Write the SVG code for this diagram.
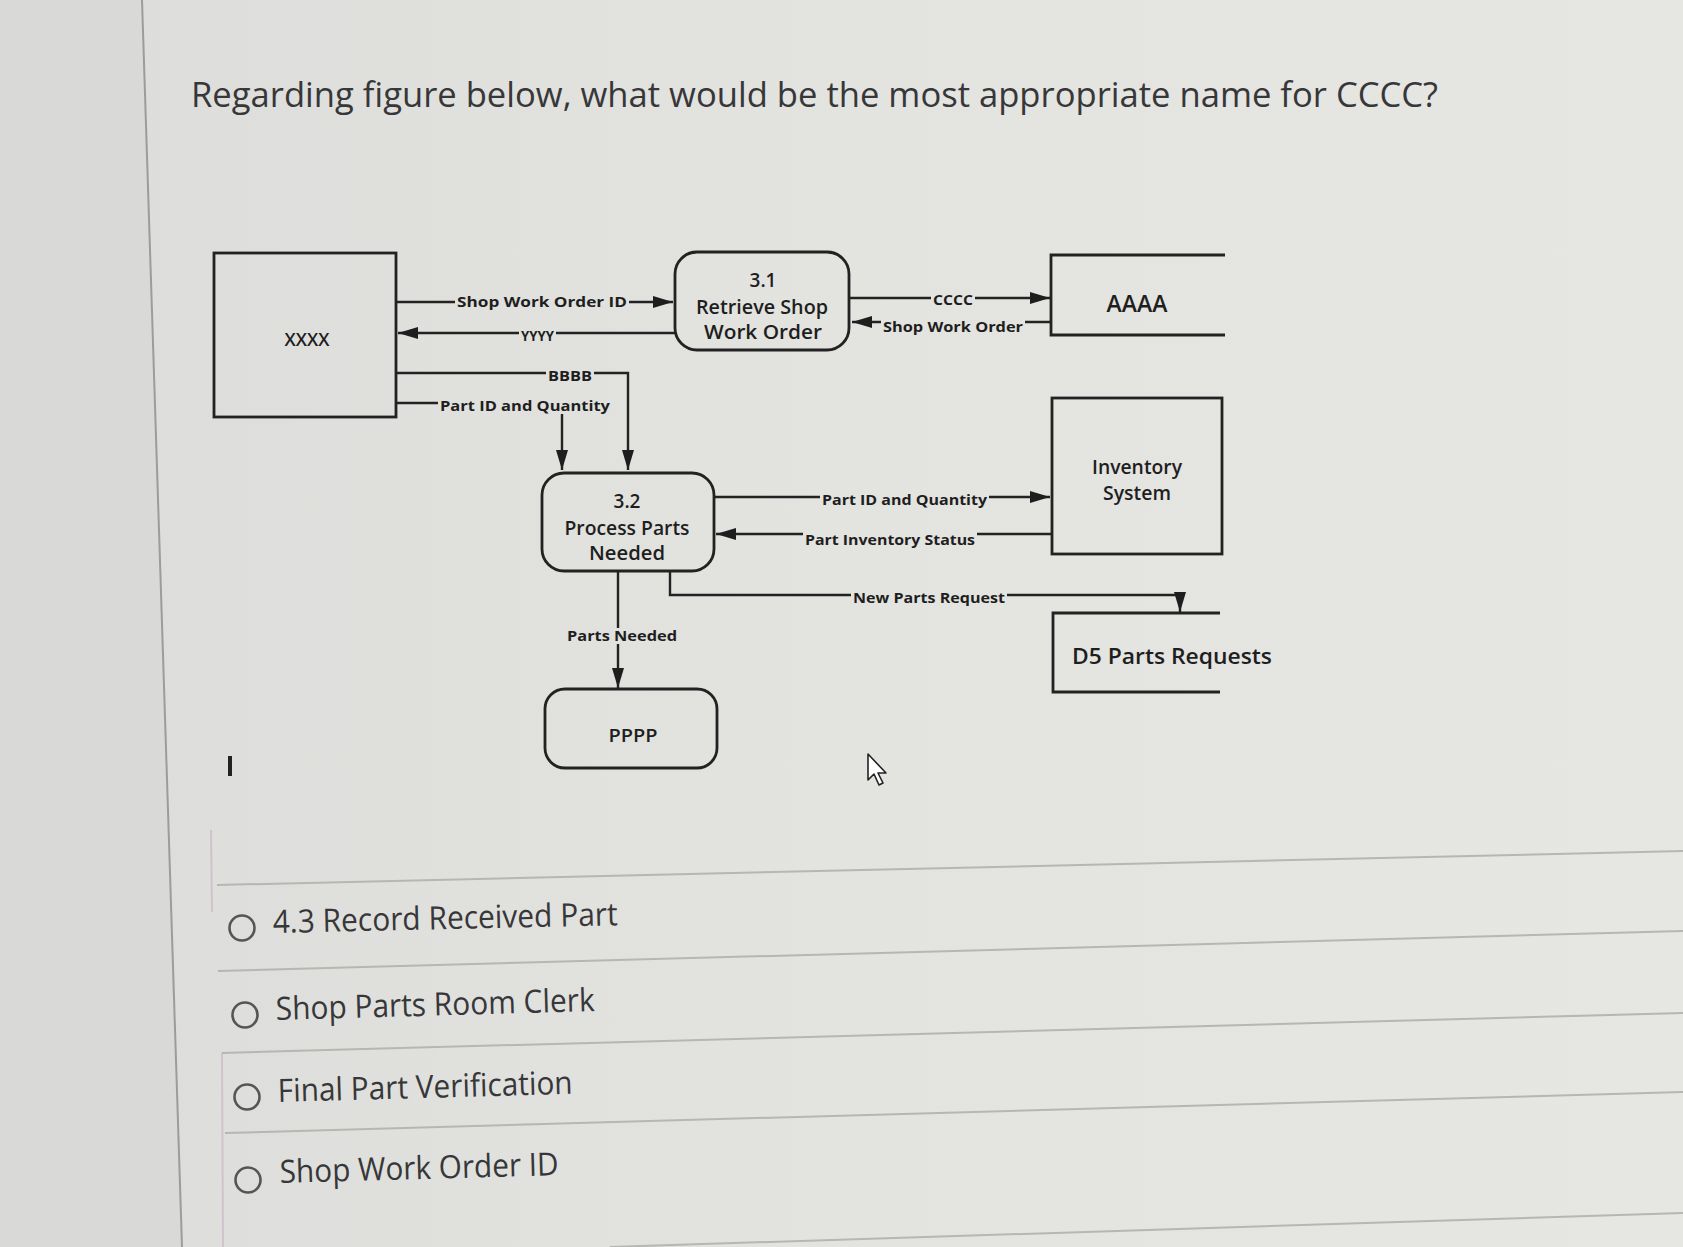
<svg xmlns="http://www.w3.org/2000/svg" width="1683" height="1247" viewBox="0 0 1683 1247">
<defs>
<linearGradient id="bg" x1="0" y1="0" x2="1" y2="0">
<stop offset="0" stop-color="#dcddda"/>
<stop offset="0.5" stop-color="#e3e3e0"/>
<stop offset="1" stop-color="#e6e6e3"/>
</linearGradient>
<marker id="ah" viewBox="0 0 20 12" refX="20" refY="6" markerWidth="20" markerHeight="12" markerUnits="userSpaceOnUse" orient="auto">
<path d="M0,0 L20,6 L0,12 z" fill="#1e1e1e"/>
</marker>
<style>
.box{fill:none;stroke:#222;stroke-width:2.8}
.conn{fill:none;stroke:#222;stroke-width:2.4}
.lbl{font-family:"Open Sans","Liberation Sans",sans-serif;font-weight:700;font-size:15px;fill:#1e1e1e}
.nt{font-family:"Open Sans","Liberation Sans",sans-serif;font-weight:600;fill:#1e1e1e;text-anchor:middle}
.q{font-family:"Open Sans","Liberation Sans",sans-serif;fill:#373739}
.sep{stroke:#b6b6b3;stroke-width:2;fill:none}
.radio{fill:none;stroke:#555;stroke-width:2.6}
</style>
</defs>
<rect width="1683" height="1247" fill="url(#bg)"/>
<path d="M0,0 H142 L182,1247 H0 z" fill="#d9dad7"/>
<path d="M142,0 L182,1247" stroke="#9c9c9a" stroke-width="2" fill="none"/>
<path d="M211,830 L212,912 M222,1053 L223,1247" stroke="#c9b7c6" stroke-width="2" fill="none" opacity="0.7"/>

<text class="q" x="191" y="107" font-size="34" textLength="1247" lengthAdjust="spacingAndGlyphs">Regarding figure below, what would be the most appropriate name for CCCC?</text>

<g id="connectors">
<path class="conn" d="M396,302 H455 M629,302 H673" marker-end="url(#ah)"/>
<path class="conn" d="M675,333 H556 M519,333 H398" marker-end="url(#ah)"/>
<path class="conn" d="M396,373 H546 M594,373 H628 V470" marker-end="url(#ah)"/>
<path class="conn" d="M396,403 H438 M562,414 V470" marker-end="url(#ah)"/>
<path class="conn" d="M849,298 H931 M975,298 H1050" marker-end="url(#ah)"/>
<path class="conn" d="M1052,322 H1025 M881,322 H852" marker-end="url(#ah)"/>
<path class="conn" d="M714,497 H820 M989,497 H1050" marker-end="url(#ah)"/>
<path class="conn" d="M1052,534 H977 M803,534 H716" marker-end="url(#ah)"/>
<path class="conn" d="M670,571 V595 H851 M1007,595 H1180 V612" marker-end="url(#ah)"/>
<path class="conn" d="M618,571 V628 M618,644 V688" marker-end="url(#ah)"/>
<text class="lbl" x="457" y="307" textLength="170" lengthAdjust="spacingAndGlyphs">Shop Work Order ID</text>
<text class="lbl" x="521" y="341" textLength="33" lengthAdjust="spacingAndGlyphs">YYYY</text>
<text class="lbl" x="548" y="381" textLength="44" lengthAdjust="spacingAndGlyphs">BBBB</text>
<text class="lbl" x="440" y="411" textLength="170" lengthAdjust="spacingAndGlyphs">Part ID and Quantity</text>
<text class="lbl" x="933" y="305" textLength="40" lengthAdjust="spacingAndGlyphs">CCCC</text>
<text class="lbl" x="883" y="332" textLength="140" lengthAdjust="spacingAndGlyphs">Shop Work Order</text>
<text class="lbl" x="822" y="505" textLength="165" lengthAdjust="spacingAndGlyphs">Part ID and Quantity</text>
<text class="lbl" x="805" y="545" textLength="170" lengthAdjust="spacingAndGlyphs">Part Inventory Status</text>
<text class="lbl" x="853" y="603" textLength="152" lengthAdjust="spacingAndGlyphs">New Parts Request</text>
<text class="lbl" x="567" y="641" textLength="110" lengthAdjust="spacingAndGlyphs">Parts Needed</text>
</g>

<g id="xxxx">
<rect class="box" x="214" y="253" width="182" height="164"/>
<text class="nt" x="307" y="346" font-size="18" font-weight="400">XXXX</text>
</g>
<g id="p31">
<rect class="box" x="675" y="252" width="174" height="98" rx="22"/>
<text class="nt" x="763" y="287" font-size="19">3.1</text>
<text class="nt" x="762" y="314" font-size="19" textLength="132" lengthAdjust="spacingAndGlyphs">Retrieve Shop</text>
<text class="nt" x="763" y="339" font-size="19" textLength="118" lengthAdjust="spacingAndGlyphs">Work Order</text>
</g>
<g id="aaaa">
<path class="box" d="M1225,255 H1051 V335 H1225"/>
<text class="nt" x="1137" y="312" font-size="23" font-weight="500">AAAA</text>
</g>
<g id="inventory">
<rect class="box" x="1052" y="398" width="170" height="156"/>
<text class="nt" x="1137" y="474" font-size="19" textLength="90" lengthAdjust="spacingAndGlyphs">Inventory</text>
<text class="nt" x="1137" y="500" font-size="19" textLength="68" lengthAdjust="spacingAndGlyphs">System</text>
</g>
<g id="p32">
<rect class="box" x="542" y="473" width="172" height="98" rx="22"/>
<text class="nt" x="627" y="508" font-size="19">3.2</text>
<text class="nt" x="627" y="535" font-size="19" textLength="125" lengthAdjust="spacingAndGlyphs">Process Parts</text>
<text class="nt" x="627" y="560" font-size="19" textLength="76" lengthAdjust="spacingAndGlyphs">Needed</text>
</g>
<g id="pppp">
<rect class="box" x="545" y="689" width="172" height="79" rx="20"/>
<text class="nt" x="633" y="742" font-size="18" textLength="49" lengthAdjust="spacingAndGlyphs">PPPP</text>
</g>
<g id="d5">
<path class="box" d="M1220,613 H1053 V692 H1220"/>
<text class="nt" x="1172" y="664" font-size="22" textLength="200" lengthAdjust="spacingAndGlyphs">D5 Parts Requests</text>
</g>

<rect x="228" y="756" width="4" height="20" fill="#222"/>
<path d="M868,754 V780 L874,774 L879,785 L883,783 L878,773 L886,773 z" fill="#fff" stroke="#222" stroke-width="1.6" stroke-linejoin="round"/>

<path class="sep" d="M217,885 L1683,851"/>
<path class="sep" d="M218,971 L1683,931"/>
<path class="sep" d="M222,1053 L1683,1013"/>
<path class="sep" d="M225,1133 L1683,1092"/>
<path class="sep" d="M610,1247 L1683,1213"/>

<circle class="radio" cx="242" cy="928" r="12.5"/>
<circle class="radio" cx="245" cy="1015" r="12.5"/>
<circle class="radio" cx="247" cy="1097" r="12.5"/>
<circle class="radio" cx="248" cy="1180" r="12.5"/>
<text class="q" x="273" y="933" font-size="32" textLength="345" lengthAdjust="spacingAndGlyphs" transform="rotate(-1.3 273 933)">4.3 Record Received Part</text>
<text class="q" x="276" y="1020" font-size="32" textLength="319" lengthAdjust="spacingAndGlyphs" transform="rotate(-1.6 276 1020)">Shop Parts Room Clerk</text>
<text class="q" x="278" y="1102" font-size="32" textLength="295" lengthAdjust="spacingAndGlyphs" transform="rotate(-1.6 278 1102)">Final Part Verification</text>
<text class="q" x="280" y="1183" font-size="32" textLength="279" lengthAdjust="spacingAndGlyphs" transform="rotate(-1.6 280 1183)">Shop Work Order ID</text>
</svg>
